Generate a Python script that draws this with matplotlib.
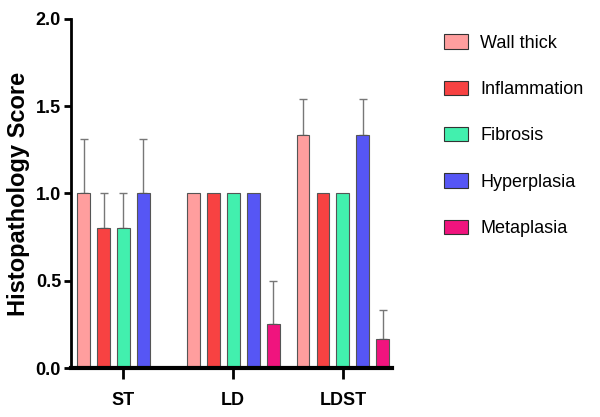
import numpy as np
import matplotlib.pyplot as plt
from matplotlib.patches import Patch

groups = ["ST", "LD", "LDST"]
series = ["Wall thick", "Inflammation", "Fibrosis", "Hyperplasia", "Metaplasia"]
colors = ["#FF9E9E", "#F74242", "#42F0AE", "#5656F5", "#F0147E"]

# mean score per series, one value per group
wall_thick = [1.0, 1.0, 1.333]
inflammation = [0.8, 1.0, 1.0]
fibrosis = [0.8, 1.0, 1.0]
hyperplasia = [1.0, 1.0, 1.333]
metaplasia = [0.0, 0.25, 0.167]

# upper error (SEM)
wall_thick_err = [0.31, 0.0, 0.21]
inflammation_err = [0.2, 0.0, 0.0]
fibrosis_err = [0.2, 0.0, 0.0]
hyperplasia_err = [0.31, 0.0, 0.21]
metaplasia_err = [0.0, 0.25, 0.167]

values = [wall_thick, inflammation, fibrosis, hyperplasia, metaplasia]
errors = [wall_thick_err, inflammation_err, fibrosis_err, hyperplasia_err, metaplasia_err]

fig = plt.figure(figsize=(6, 4.17), dpi=100)
ax = fig.add_axes([0.118, 0.1175, 0.535, 0.837])

x = np.arange(len(groups))
step = 0.182
width = 0.118
for i, (vals, errs) in enumerate(zip(values, errors)):
    pos = x + (i - 2) * step
    ax.bar(pos, vals, width, color=colors[i], edgecolor="#555555", linewidth=0.8, zorder=2)
    yerr = np.array([np.zeros(len(errs)), errs])
    show = np.array(errs) > 0
    ax.errorbar(pos[show], np.array(vals)[show], yerr=yerr[:, show], fmt="none",
                ecolor="#777777", elinewidth=1.0, capsize=3, capthick=1.0, zorder=1)

ax.set_xlim(-0.48, 2.445)
ax.set_ylim(0, 2.0)
ax.set_yticks([0, 0.5, 1.0, 1.5, 2.0])
ax.set_yticklabels(["0.0", "0.5", "1.0", "1.5", "2.0"])
ax.set_xticks(x)
ax.set_xticklabels(groups)

for lab in ax.get_xticklabels() + ax.get_yticklabels():
    lab.set_fontfamily("Liberation Sans")
    lab.set_fontweight("bold")
    lab.set_fontsize(13)

ax.spines["top"].set_visible(False)
ax.spines["right"].set_visible(False)
ax.spines["left"].set_linewidth(2)
ax.spines["bottom"].set_linewidth(3)
ax.tick_params(axis="y", length=5, width=2, pad=2)
ax.tick_params(axis="x", length=8, width=2, pad=9)

ax.set_ylabel("Histopathology Score", fontfamily="Liberation Sans", fontweight="bold",
              fontsize=17, labelpad=4)

handles = [Patch(facecolor=c, edgecolor="#333333", linewidth=0.8) for c in colors]
fig.legend(handles, series, loc="upper left", bbox_to_anchor=(0.713, 0.957),
           frameon=False, prop={"family": "Liberation Sans", "size": 13},
           handlelength=1.35, handleheight=0.85, labelspacing=1.6, handletextpad=0.65)

fig.savefig("out.png", dpi=100)
